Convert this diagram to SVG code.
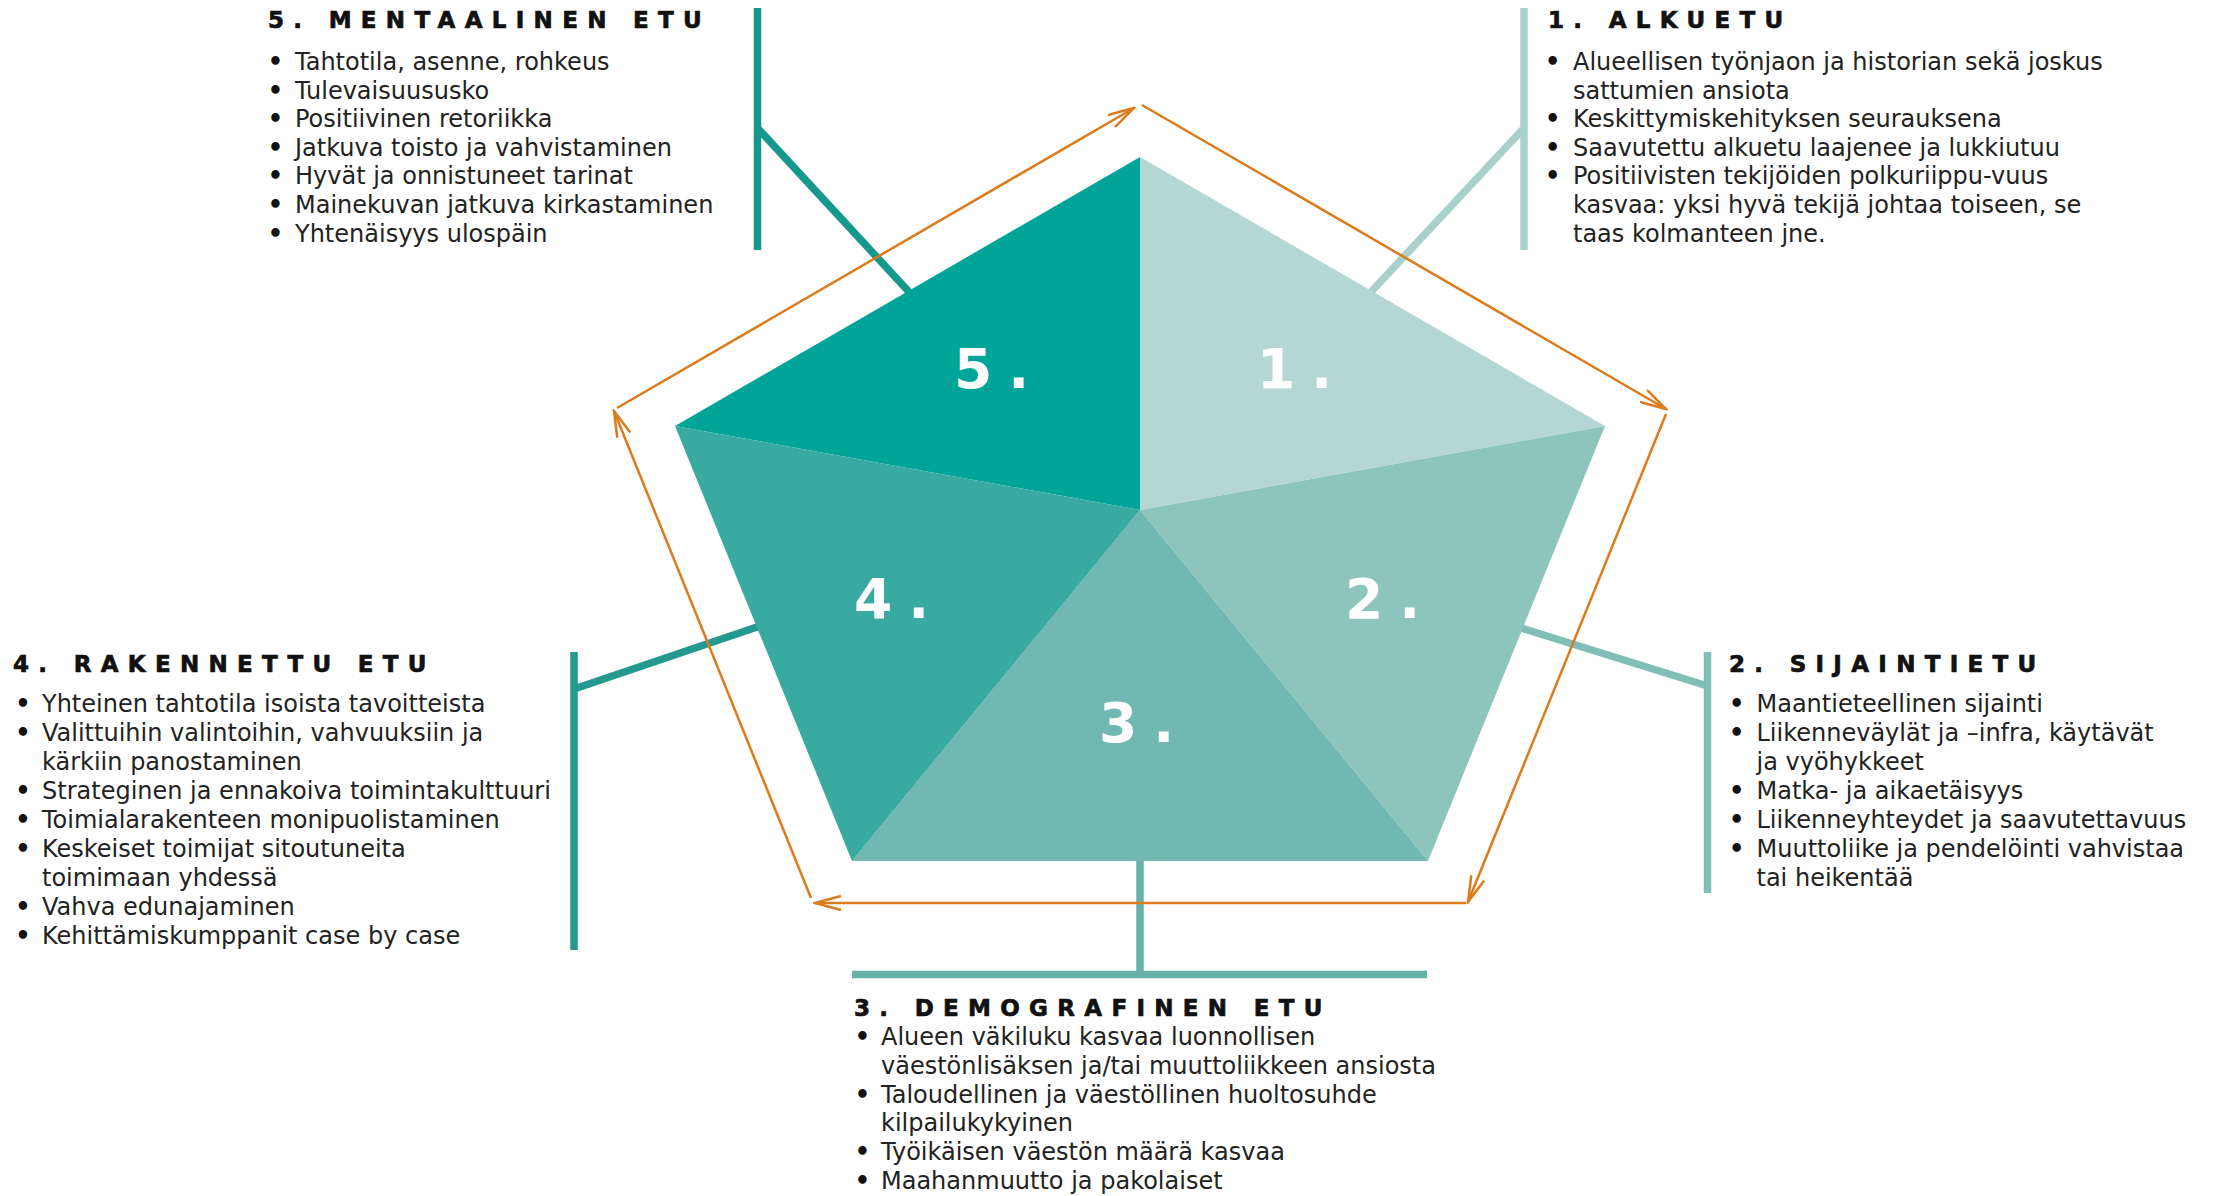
<svg xmlns="http://www.w3.org/2000/svg" width="2216" height="1196" viewBox="0 0 2216 1196">
<style>
.h{font-family:"DejaVu Sans","Liberation Sans",sans-serif;font-weight:bold;font-size:23px;letter-spacing:9.3px;fill:#111;stroke:#111;stroke-width:0.7px}
.t{font-family:"DejaVu Sans","Liberation Sans",sans-serif;font-size:24px;fill:#222}
.bu{font-family:"DejaVu Sans","Liberation Sans",sans-serif;font-weight:bold;font-size:24px;fill:#111;text-anchor:middle}
.num{font-family:"DejaVu Sans","Liberation Sans",sans-serif;font-weight:bold;font-size:55px;letter-spacing:16px;fill:#fff}
.arr{fill:none;stroke:#DD7B1C;stroke-width:2.5;marker-end:url(#ah)}
.ld{fill:none;stroke-width:7.5;stroke-linecap:butt}
</style>
<defs>
<marker id="ah" viewBox="0 0 30 16" refX="28" refY="8" markerWidth="30" markerHeight="16" markerUnits="userSpaceOnUse" orient="auto">
<path d="M2,1 L28,8 L2,15" fill="none" stroke="#DD7B1C" stroke-width="2.5"/>
</marker>
</defs>
<rect width="2216" height="1196" fill="#fff"/>
<g id="connectors">
<path class="ld" stroke="#16988C" d="M757.5,8 V250 M757.5,128 L910,293"/>
<path class="ld" stroke="#A8D1CB" d="M1524,8 V250 M1524,128 L1370,293"/>
<path class="ld" stroke="#80BEB7" d="M1707.5,652 V893 M1707.5,686 L1518,627"/>
<path class="ld" stroke="#68B1A9" d="M1140,850 V971 M852,974.5 H1427"/>
<path class="ld" stroke="#23998F" d="M574,652 V950 M574,689 L760,626"/>
<path class="arr" d="M617,408 L1134,108"/>
<path class="arr" d="M1142,105 L1666,409"/>
<path class="arr" d="M1666,414 L1468,902"/>
<path class="arr" d="M1466,903 L815,903"/>
<path class="arr" d="M811,898 L614,411"/>
</g>
<g id="node-5">
<polygon points="1140,157 675,426 1140,510" fill="#00A498"/>
<text class="num" x="954" y="388">5.</text>
<text class="h" x="268" y="28">5. MENTAALINEN ETU</text>
<text class="bu" x="275.5" y="70">•</text><text class="t" x="295" y="70">Tahtotila, asenne, rohkeus</text>
<text class="bu" x="275.5" y="98.6">•</text><text class="t" x="295" y="98.6">Tulevaisuususko</text>
<text class="bu" x="275.5" y="127.2">•</text><text class="t" x="295" y="127.2">Positiivinen retoriikka</text>
<text class="bu" x="275.5" y="155.8">•</text><text class="t" x="295" y="155.8">Jatkuva toisto ja vahvistaminen</text>
<text class="bu" x="275.5" y="184.4">•</text><text class="t" x="295" y="184.4">Hyvät ja onnistuneet tarinat</text>
<text class="bu" x="275.5" y="213">•</text><text class="t" x="295" y="213">Mainekuvan jatkuva kirkastaminen</text>
<text class="bu" x="275.5" y="241.6">•</text><text class="t" x="295" y="241.6">Yhtenäisyys ulospäin</text>
</g>
<g id="node-1">
<polygon points="1140,157 1605,426 1140,510" fill="#B5D7D3"/>
<text class="num" x="1257" y="388">1.</text>
<text class="h" x="1548" y="28">1. ALKUETU</text>
<text class="bu" x="1552.6" y="70">•</text><text class="t" x="1573" y="70">Alueellisen työnjaon ja historian sekä joskus</text>
<text class="t" x="1573" y="98.6">sattumien ansiota</text>
<text class="bu" x="1552.6" y="127.2">•</text><text class="t" x="1573" y="127.2">Keskittymiskehityksen seurauksena</text>
<text class="bu" x="1552.6" y="155.8">•</text><text class="t" x="1573" y="155.8">Saavutettu alkuetu laajenee ja lukkiutuu</text>
<text class="bu" x="1552.6" y="184.4">•</text><text class="t" x="1573" y="184.4">Positiivisten tekijöiden polkuriippu-vuus</text>
<text class="t" x="1573" y="213">kasvaa: yksi hyvä tekijä johtaa toiseen, se</text>
<text class="t" x="1573" y="241.6">taas kolmanteen jne.</text>
</g>
<g id="node-2">
<polygon points="1605,426 1428,861 1140,510" fill="#8EC4BE"/>
<text class="num" x="1345" y="618">2.</text>
<text class="h" x="1729" y="672">2. SIJAINTIETU</text>
<text class="bu" x="1736.6" y="712">•</text><text class="t" x="1756.5" y="712">Maantieteellinen sijainti</text>
<text class="bu" x="1736.6" y="741">•</text><text class="t" x="1756.5" y="741">Liikenneväylät ja –infra, käytävät</text>
<text class="t" x="1756.5" y="770">ja vyöhykkeet</text>
<text class="bu" x="1736.6" y="799">•</text><text class="t" x="1756.5" y="799">Matka- ja aikaetäisyys</text>
<text class="bu" x="1736.6" y="828">•</text><text class="t" x="1756.5" y="828">Liikenneyhteydet ja saavutettavuus</text>
<text class="bu" x="1736.6" y="857">•</text><text class="t" x="1756.5" y="857">Muuttoliike ja pendelöinti vahvistaa</text>
<text class="t" x="1756.5" y="886">tai heikentää</text>
</g>
<g id="node-3">
<polygon points="1428,861 852,861 1140,510" fill="#70B8B1"/>
<text class="num" x="1099" y="742">3.</text>
<text class="h" x="854" y="1016">3. DEMOGRAFINEN ETU</text>
<text class="bu" x="862.5" y="1045">•</text><text class="t" x="881" y="1045">Alueen väkiluku kasvaa luonnollisen</text>
<text class="t" x="881" y="1073.8">väestönlisäksen ja/tai muuttoliikkeen ansiosta</text>
<text class="bu" x="862.5" y="1102.6">•</text><text class="t" x="881" y="1102.6">Taloudellinen ja väestöllinen huoltosuhde</text>
<text class="t" x="881" y="1131.4">kilpailukykyinen</text>
<text class="bu" x="862.5" y="1160.2">•</text><text class="t" x="881" y="1160.2">Työikäisen väestön määrä kasvaa</text>
<text class="bu" x="862.5" y="1189">•</text><text class="t" x="881" y="1189">Maahanmuutto ja pakolaiset</text>
</g>
<g id="node-4">
<polygon points="852,861 675,426 1140,510" fill="#39AAA1"/>
<text class="num" x="854" y="618">4.</text>
<text class="h" x="13" y="672">4. RAKENNETTU ETU</text>
<text class="bu" x="23" y="712">•</text><text class="t" x="42" y="712">Yhteinen tahtotila isoista tavoitteista</text>
<text class="bu" x="23" y="741">•</text><text class="t" x="42" y="741">Valittuihin valintoihin, vahvuuksiin ja</text>
<text class="t" x="42" y="770">kärkiin panostaminen</text>
<text class="bu" x="23" y="799">•</text><text class="t" x="42" y="799">Strateginen ja ennakoiva toimintakulttuuri</text>
<text class="bu" x="23" y="828">•</text><text class="t" x="42" y="828">Toimialarakenteen monipuolistaminen</text>
<text class="bu" x="23" y="857">•</text><text class="t" x="42" y="857">Keskeiset toimijat sitoutuneita</text>
<text class="t" x="42" y="886">toimimaan yhdessä</text>
<text class="bu" x="23" y="915">•</text><text class="t" x="42" y="915">Vahva edunajaminen</text>
<text class="bu" x="23" y="944">•</text><text class="t" x="42" y="944">Kehittämiskumppanit case by case</text>
</g>
</svg>
